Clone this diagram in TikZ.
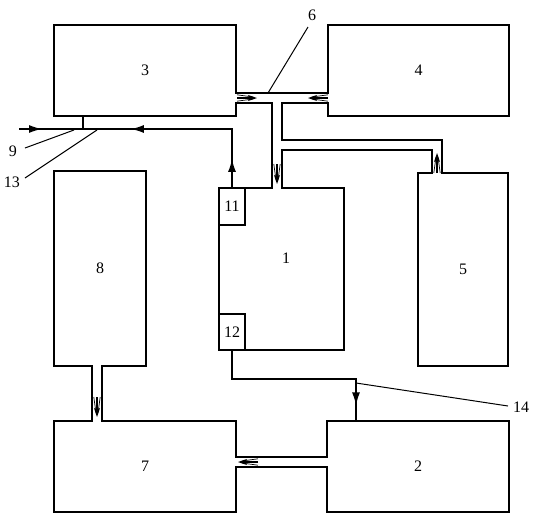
\documentclass[tikz,border=0pt]{standalone}
\usepackage{fontspec}
\setmainfont{Liberation Serif}
\usetikzlibrary{arrows.meta,decorations.markings}
\tikzset{ftip/.tip={Latex[length=13pt,width=8pt]}}
\begin{document}
\begin{tikzpicture}[x=1pt,y=-1pt,
  box/.style={draw,line width=1.8pt,inner sep=0pt,outer sep=0pt,font=\fontsize{16}{16}\selectfont},
  wall/.style={line width=1.8pt},
  erase/.style={fill=white},
  pipe/.style={line width=1.5pt},
  leader/.style={line width=1pt},
  lbl/.style={font=\fontsize{16}{16}\selectfont,inner sep=0pt},
  pics/flowarrow/.style={code={
    \draw[line width=1.2pt,-{Stealth[length=9pt,width=6pt]}] (-10,0) -- (10,0);
    \draw[line width=0.7pt] (-10,-3.2) -- (6,-1) (-10,3.2) -- (6,1);}}
]
\useasboundingbox (0,0) rectangle (538,531);
\fill[white] (0,0) rectangle (538,531);

% boxes
\node[box,minimum width=182pt,minimum height=91pt] (b3) at (145,70.5) {3};
\node[box,minimum width=181pt,minimum height=91pt] (b4) at (418.5,70.5) {4};
\node[box,minimum width=92pt,minimum height=195pt] (b8) at (100,268.5) {8};
\node[box,minimum width=125pt,minimum height=162pt] (b1) at (281.5,269) {};
\node[lbl] (t1) at (286,258) {1};
\node[box,minimum width=26pt,minimum height=37pt] (b11) at (232,206.5) {11};
\node[box,minimum width=26pt,minimum height=36pt] (b12) at (232,332) {12};
\node[box,minimum width=90pt,minimum height=193pt] (b5) at (463,269.5) {5};
\node[box,minimum width=182pt,minimum height=91pt] (b7) at (145,466.5) {7};
\node[box,minimum width=182pt,minimum height=91pt] (b2) at (418,466.5) {2};

% channel 3-4 (A)
\fill[erase] (234,93.9) rectangle (331,102.1);
\draw[wall] (236,93) -- (328,93);
\draw[wall] (236,103) -- (272,103) -- (272,188);
\draw[wall] (328,103) -- (282,103) -- (282,140) -- (442,140) -- (442,173);
% channel to box 1 and box 5
\fill[erase] (272.9,186) rectangle (281.1,190);
\fill[erase] (432.9,171) rectangle (441.1,175);
\draw[wall] (282,188) -- (282,150) -- (432,150) -- (432,173);
% channel 8-7
\fill[erase] (92.9,364) rectangle (101.1,423);
\draw[wall] (92,366) -- (92,421);
\draw[wall] (102,366) -- (102,421);
% channel 7-2
\fill[erase] (234,457.9) rectangle (329,466.1);
\draw[wall] (236,457) -- (327,457);
\draw[wall] (236,467) -- (327,467);

% flow arrows in channels
\pic at (247,98) {flowarrow};
\pic[rotate=180] at (318,98) {flowarrow};
\pic[rotate=-90] at (277,174) {flowarrow};
\pic[rotate=90] at (437,163) {flowarrow};
\pic[rotate=-90] at (97,407) {flowarrow};
\pic[rotate=180] at (248,462) {flowarrow};

% single pipes
\coordinate (j13) at (83,129);
\coordinate (s3) at (83,116);
\coordinate (in9) at (19,129);
\coordinate (c11) at (232,129);
\coordinate (c12) at (232,379);
\coordinate (c14) at (356,379);
\coordinate (e2) at (356,421);
\draw[pipe] (s3) -- (j13);
\draw[pipe,postaction={decorate},decoration={markings,mark=at position 0.36 with {\arrow{ftip}}}] (in9) -- (j13);
\draw[pipe,postaction={decorate},decoration={markings,
  mark=at position 0.14 with {\arrow{ftip}},
  mark=at position 0.77 with {\arrow{ftip}}}] (b11.north) -- (c11) -- (j13);
\draw[pipe,postaction={decorate},decoration={markings,mark=at position 0.92 with {\arrow{ftip}}}] (b12.south) -- (c12) -- (c14) -- (e2);

% labels and leaders
\node[lbl] (l6) at (312,15) {6};
\node[lbl] (l9) at (13,151) {9};
\node[lbl] (l13) at (12,182) {13};
\node[lbl] (l14) at (521,407) {14};
\coordinate (p6) at (268,93);
\coordinate (p9) at (74,130);
\coordinate (p13) at (97,130);
\coordinate (p14) at (356,383);
\draw[leader] (308,27) -- (p6);
\draw[leader] (25,148) -- (p9);
\draw[leader] (25,178) -- (p13);
\draw[leader] (p14) -- (508,406);
\end{tikzpicture}
\end{document}
